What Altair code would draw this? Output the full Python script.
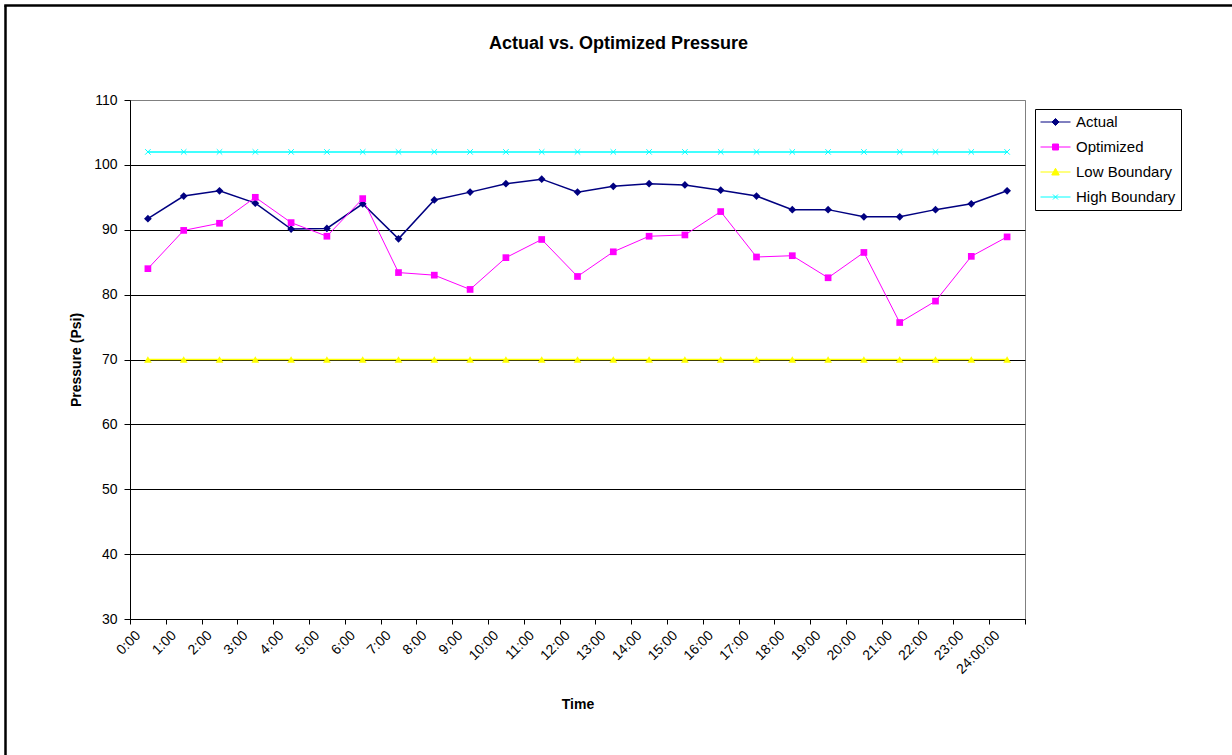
import altair as alt
import pandas as pd

times = ["0:00", "1:00", "2:00", "3:00", "4:00", "5:00", "6:00", "7:00", "8:00",
         "9:00", "10:00", "11:00", "12:00", "13:00", "14:00", "15:00", "16:00",
         "17:00", "18:00", "19:00", "20:00", "21:00", "22:00", "23:00", "24:00:00"]
actual = [91.7, 95.2, 96.0, 94.1, 90.1, 90.2, 94.0, 88.6, 94.6, 95.8, 97.1, 97.8, 95.8,
          96.7, 97.1, 96.9, 96.1, 95.2, 93.1, 93.1, 92.0, 92.0, 93.1, 94.0, 96.0]
optimized = [84.0, 89.9, 91.0, 95.0, 91.1, 89.0, 94.8, 83.4, 83.0, 80.8, 85.7, 88.5, 82.8,
             86.6, 89.0, 89.2, 92.8, 85.8, 86.0, 82.6, 86.5, 75.7, 79.0, 85.9, 88.9]
low_boundary = [70, 70, 70, 70, 70, 70, 70, 70, 70, 70, 70, 70, 70,
                70, 70, 70, 70, 70, 70, 70, 70, 70, 70, 70, 70]
high_boundary = [102, 102, 102, 102, 102, 102, 102, 102, 102, 102, 102, 102, 102,
                 102, 102, 102, 102, 102, 102, 102, 102, 102, 102, 102, 102]

series_names = ["Actual", "Optimized", "Low Boundary", "High Boundary"]
series_values = [actual, optimized, low_boundary, high_boundary]
colors = ["#000080", "#FF00FF", "#FFFF00", "#00FFFF"]
line_widths = [1.5, 1, 1.5, 1.5]
marker_shapes = ["diamond", "square", "triangle-up", "M-1,-1L1,1M-1,1L1,-1"]
marker_filled = [True, True, True, False]
marker_sizes = [60, 45, 60, 30]
# legend symbols: a line segment with the marker in its middle (unit r = 7.5 px)
legend_paths = [
    "M-1,0H3M1,-0.47L1.47,0L1,0.47L0.53,0Z",
    "M-1,0H3M0.6,-0.4H1.4V0.4H0.6Z",
    "M-1,0H3M1,-0.5L1.5,0.4L0.5,0.4Z",
    "M-1,0H3M0.67,-0.33L1.33,0.33M0.67,0.33L1.33,-0.33",
]

rows = []
for name, vals in zip(series_names, series_values):
    for t, v in zip(times, vals):
        rows.append({"time": t, "series": name, "value": v})
df = pd.DataFrame(rows)

FONT = "Liberation Sans"

x_enc = alt.X(
    "time:N", sort=times, bandPosition=0.5,
    scale=alt.Scale(type="band", paddingInner=0, paddingOuter=0),
    axis=alt.Axis(
        title="Time", tickBand="extent", labelAngle=-45, labelAlign="right",
        labelBaseline="middle", labelOffset=-10, labelPadding=9, tickSize=5,
        tickColor="#000000", domainColor="#000000", labelColor="#000000",
        labelFont=FONT, labelFontSize=14, titleFont=FONT, titleFontSize=14,
        titleFontWeight="bold", titleColor="#000000", titleY=85,
        titleBaseline="middle", grid=False, labelOverlap=False,
    ),
)
y_enc = alt.Y(
    "value:Q",
    scale=alt.Scale(domain=[30, 110], nice=False, zero=False),
    axis=alt.Axis(
        title="Pressure (Psi)", values=[30, 40, 50, 60, 70, 80, 90, 100, 110],
        tickSize=6, labelPadding=7, tickColor="#000000", domainColor="#000000",
        labelColor="#000000", labelFont=FONT, labelFontSize=14,
        titleFont=FONT, titleFontSize=14, titleFontWeight="bold",
        titleColor="#000000", titleX=-54, titleBaseline="middle",
        grid=True,
        gridColor={"condition": {"test": "datum.value >= 110", "value": "#808080"},
                   "value": "#000000"},
        gridOpacity=1,
    ),
)

base = alt.Chart(df)
layers = []
for name, col, lw in zip(series_names, colors, line_widths):
    layers.append(
        base.transform_filter(alt.datum.series == name)
        .mark_line(color=col, strokeWidth=lw)
        .encode(x=x_enc, y=y_enc)
    )
for name, col, shp, fil, sz in zip(series_names, colors, marker_shapes,
                                   marker_filled, marker_sizes):
    if fil:
        pt = base.mark_point(shape=shp, filled=True, fill=col, size=sz,
                             opacity=1, strokeWidth=0)
    else:
        pt = base.mark_point(shape=shp, filled=False, stroke=col, size=sz,
                             opacity=1, strokeWidth=1)
    layers.append(
        pt.transform_filter(alt.datum.series == name).encode(x=x_enc, y=y_enc)
    )


def make_legend():
    return alt.Legend(
        title=None, orient="none", legendX=905, legendY=9,
        strokeColor="#000000", fillColor="#FFFFFF", padding=5,
        labelFont=FONT, labelFontSize=15, labelColor="#000000",
        symbolSize=225, rowPadding=9, labelOffset=20,
        symbolStrokeWidth=1, symbolOpacity=1)


legend_scale = alt.Scale(domain=series_names, range=colors)
legend_layer = (
    base.transform_filter("false")
    .mark_point(filled=True, strokeWidth=1, size=225)
    .encode(
        fill=alt.Fill("series:N", scale=legend_scale, legend=make_legend()),
        stroke=alt.Stroke("series:N", scale=legend_scale, legend=make_legend()),
        shape=alt.Shape("series:N",
                        scale=alt.Scale(domain=series_names, range=legend_paths),
                        legend=make_legend()),
    )
)
layers.append(legend_layer)

frame_df = pd.DataFrame({"k": [0]})
frame_left = alt.Chart(frame_df).mark_rule(color="#000000", strokeWidth=2.5).encode(
    x=alt.value(-124.5), y=alt.value(-94.5), y2=alt.value(700))
frame_top = alt.Chart(frame_df).mark_rule(color="#000000", strokeWidth=2.5).encode(
    x=alt.value(-125.75), x2=alt.value(1150), y=alt.value(-94.5))
layers += [frame_left, frame_top]

chart = alt.layer(*layers).properties(
    width=895, height=519,
    title=alt.Title("Actual vs. Optimized Pressure", font=FONT, fontSize=18,
                    fontWeight="bold", color="#000000", anchor="middle",
                    frame="group", dx=41, dy=48.5, offset=0),
    autosize=alt.AutoSizeParams(type="none"),
    padding={"left": 130, "top": 100, "right": 207, "bottom": 136},
    background="#FFFFFF",
).configure_view(stroke="#808080", strokeWidth=1)

chart.save("out.html", embed_options={"renderer": "svg", "actions": False})
